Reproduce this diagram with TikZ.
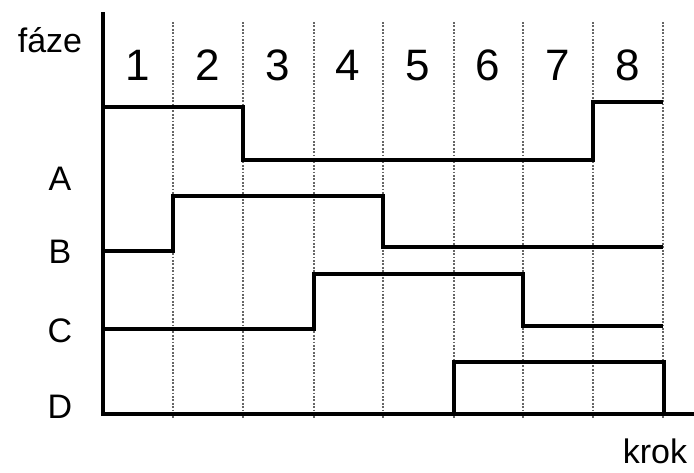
\documentclass[tikz,border=0pt]{standalone}
\usepackage{fontspec}
\setmainfont{Liberation Sans}
\begin{document}
\begin{tikzpicture}[x=1pt,y=-1pt,
    signal/.style={line width=3.6pt,line join=miter},
    gridline/.style={gray!80!black,dash pattern=on 1.8pt off 1.6pt,line width=1.1pt},
    letter/.style={font=\fontsize{34}{34}\selectfont,anchor=base},
    digit/.style={font=\fontsize{44}{44}\selectfont,anchor=base}]
    \useasboundingbox (0,0) rectangle (694,472);
    % dotted step lines
    \foreach \x in {173,243,314,383,454,523,593,663}
        \draw[gridline] (\x,22)--(\x,418);
    % step numbers
    \foreach \n/\x in {1/138,2/208,3/278,4/348,5/418,6/488,7/558,8/628}
        \node[digit] (step\n) at (\x,80) {\n};
    % axes
    \draw[line width=4pt] (103,12)--(103,414)--(694,414);
    % A
    \draw[signal] (103,107)--(243,107)--(243,160)--(593,160)--(593,102)--(663,102);
    % B
    \draw[signal] (103,251)--(173,251)--(173,196)--(383,196)--(383,247)--(663,247);
    % C
    \draw[signal] (103,329)--(314,329)--(314,274)--(523,274)--(523,326)--(663,326);
    % D
    \draw[signal] (454,414)--(454,362)--(664,362)--(664,414);
    % labels
    \node[letter] (faze) at (50,52) {fáze};
    \node[letter] (A) at (60,190) {A};
    \node[letter] (B) at (60,263) {B};
    \node[letter] (C) at (60,342) {C};
    \node[letter] (D) at (60,418) {D};
    \node[letter] (krok) at (655,463) {krok};
\end{tikzpicture}
\end{document}
